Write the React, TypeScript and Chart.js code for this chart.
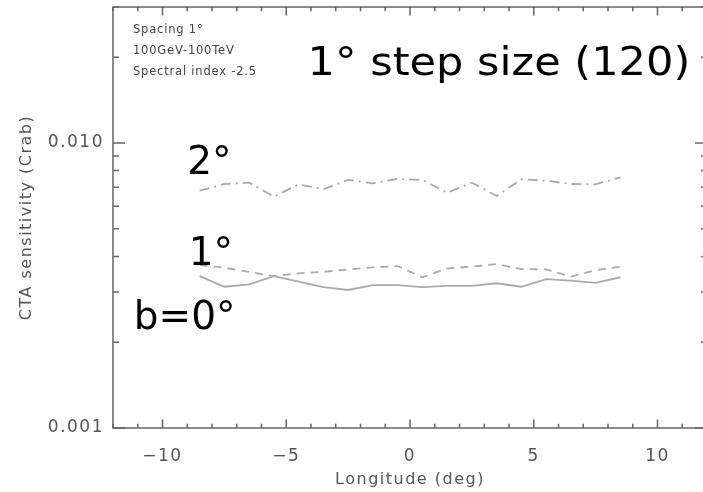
import React, { useEffect, useRef } from 'react';
import { Chart, registerables } from 'chart.js';

Chart.register(...registerables);

// ---- data ----
const longitudes = [-8.5, -7.5, -6.5, -5.5, -4.5, -3.5, -2.5, -1.5, -0.5, 0.5, 1.5, 2.5, 3.5, 4.5, 5.5, 6.5, 7.5, 8.5];
const sensB0 = [0.00341, 0.00313, 0.00319, 0.00341, 0.00326, 0.00312, 0.00305, 0.00317, 0.00317, 0.00312, 0.00315, 0.00315, 0.00322, 0.00313, 0.00333, 0.00329, 0.00323, 0.00338];
const sensB1 = [0.00373, 0.00365, 0.00353, 0.00341, 0.00349, 0.00353, 0.00360, 0.00366, 0.00370, 0.00338, 0.00363, 0.00368, 0.00376, 0.00361, 0.00360, 0.00340, 0.00358, 0.00368];
const sensB2 = [0.00680, 0.00718, 0.00726, 0.00648, 0.00716, 0.00688, 0.00742, 0.00722, 0.00748, 0.00742, 0.00669, 0.00726, 0.00652, 0.00746, 0.00737, 0.00718, 0.00716, 0.00758];
const xTickValues = [-10, -5, 0, 5, 10];
const yTickValues = [0.001, 0.01];
const notes = ['Spacing 1°', '100GeV-100TeV', 'Spectral index -2.5'];
const chartTitle = '1° step size (120)';
const seriesLabels = ['2°', '1°', 'b=0°'];

// ---- annotation placement (data coordinates) ----
const seriesLabelLon = [-9.0, -8.94, -11.16];
const seriesLabelSens = [0.00777, 0.00373, 0.00223];
const titleLon = -4.14;
const titleSens = 0.01726;

const FONT = '"DejaVu Sans", Verdana, sans-serif';
const AXIS_COLOR = '#666';
const TEXT_COLOR = '#555';
const LINE_COLOR = '#ababab';

function drawStretched(ctx: CanvasRenderingContext2D, text: string, x: number, y: number, font: string, color: string, sx: number, spacing: string) {
  ctx.save();
  ctx.font = font;
  ctx.fillStyle = color;
  (ctx as any).letterSpacing = spacing;
  ctx.textAlign = 'left';
  ctx.textBaseline = 'alphabetic';
  ctx.translate(x, y);
  ctx.scale(sx, 1);
  ctx.fillText(text, 0, 0);
  ctx.restore();
}

const framePlugin = {
  id: 'framePlugin',
  beforeDraw(chart: any) {
    chart.ctx.letterSpacing = '1.5px';
  },
  afterDraw(chart: any) {
    const { ctx, chartArea, scales } = chart;
    const { left, right, top, bottom } = chartArea;
    const x = scales.x;
    const y = scales.y;
    ctx.save();
    ctx.letterSpacing = '0px';
    ctx.strokeStyle = AXIS_COLOR;
    ctx.lineWidth = 1.5;
    ctx.strokeRect(left, top, right - left, bottom - top);
    ctx.beginPath();
    for (let v = Math.ceil(x.min); v <= x.max; v++) {
      const px = x.getPixelForValue(v);
      const len = v % 5 === 0 ? 8.5 : 4.2;
      ctx.moveTo(px, bottom); ctx.lineTo(px, bottom - len);
      ctx.moveTo(px, top); ctx.lineTo(px, top + len);
    }
    for (let e = -3; e <= -2; e++) {
      for (let m = 1; m <= 9; m++) {
        const v = m * Math.pow(10, e);
        if (v < y.min * 0.999 || v > y.max * 1.001) continue;
        const py = y.getPixelForValue(v);
        const len = m === 1 ? 12 : 6;
        ctx.moveTo(left, py); ctx.lineTo(left + len, py);
        ctx.moveTo(right, py); ctx.lineTo(right - len, py);
      }
    }
    ctx.stroke();
    ctx.restore();

    // notes
    notes.forEach((t, i) => {
      drawStretched(ctx, t, left + 20, top + 26 + i * 21, `11.5px ${FONT}`, '#444', 1, '0.8px');
    });
    // title
    drawStretched(ctx, chartTitle, x.getPixelForValue(titleLon), y.getPixelForValue(titleSens), `39px ${FONT}`, '#000', 1.105, '0px');
    // series labels
    seriesLabels.forEach((t, i) => {
      drawStretched(ctx, t, x.getPixelForValue(seriesLabelLon[i]), y.getPixelForValue(seriesLabelSens[i]), `39px ${FONT}`, '#000', 1, '0px');
    });
  },
};

export default function App() {
  const ref = useRef<HTMLCanvasElement | null>(null);
  useEffect(() => {
    if (!ref.current) return;
    const mk = (vals: number[]) => longitudes.map((lon, i) => ({ x: lon, y: vals[i] }));
    const chart = new Chart(ref.current, {
      type: 'line',
      data: {
        datasets: [
          { data: mk(sensB0), borderColor: LINE_COLOR, borderWidth: 1.8, pointRadius: 0, fill: false, tension: 0 },
          { data: mk(sensB1), borderColor: LINE_COLOR, borderWidth: 1.8, borderDash: [8, 6], pointRadius: 0, fill: false, tension: 0 },
          { data: mk(sensB2), borderColor: LINE_COLOR, borderWidth: 1.8, borderDash: [10, 5, 2, 5], pointRadius: 0, fill: false, tension: 0 },
        ],
      },
      options: {
        animation: false,
        responsive: false,
        devicePixelRatio: 1,
        layout: { padding: { left: 0, top: 7, right: 5, bottom: 0 } },
        plugins: { legend: { display: false }, tooltip: { enabled: false }, title: { display: false } },
        scales: {
          x: {
            type: 'linear',
            min: -12,
            max: 12,
            grid: { display: false, drawTicks: false },
            border: { display: false },
            afterBuildTicks: (s: any) => { s.ticks = xTickValues.map((v) => ({ value: v })); },
            afterFit: (s: any) => { s.height = 64; s.paddingLeft = 0; s.paddingRight = 0; },
            ticks: {
              color: TEXT_COLOR,
              font: { family: FONT, size: 17 },
              padding: 18,
              maxRotation: 0,
              autoSkip: false,
              callback: (v: any) => (Number(v) < 0 ? '\u2212' + Math.abs(Number(v)) : String(v)),
            },
            title: { display: true, text: 'Longitude (deg)', color: TEXT_COLOR, font: { family: FONT, size: 16 }, padding: { top: 0, bottom: 3 } },
          },
          y: {
            type: 'logarithmic',
            min: 0.001,
            max: 0.03,
            grid: { display: false, drawTicks: false },
            border: { display: false },
            afterBuildTicks: (s: any) => { s.ticks = yTickValues.map((v) => ({ value: v })); },
            afterFit: (s: any) => { s.width = 113; s.paddingTop = 0; s.paddingBottom = 0; },
            ticks: {
              color: TEXT_COLOR,
              font: { family: FONT, size: 17 },
              padding: 9,
              autoSkip: false,
              callback: (v: any) => Number(v).toFixed(3),
            },
            title: { display: true, text: 'CTA sensitivity (Crab)', color: TEXT_COLOR, font: { family: FONT, size: 16 }, padding: { top: 17, bottom: 0 } },
          },
        },
      },
      plugins: [framePlugin],
    } as any);
    return () => chart.destroy();
  }, []);
  return (
    <div style={{ position: 'fixed', left: 0, top: 0, width: 703, height: 492, overflow: 'hidden', background: '#fff' }}>
      <canvas ref={ref} width={712} height={492} style={{ display: 'block', width: 712, height: 492 }} />
    </div>
  );
}
